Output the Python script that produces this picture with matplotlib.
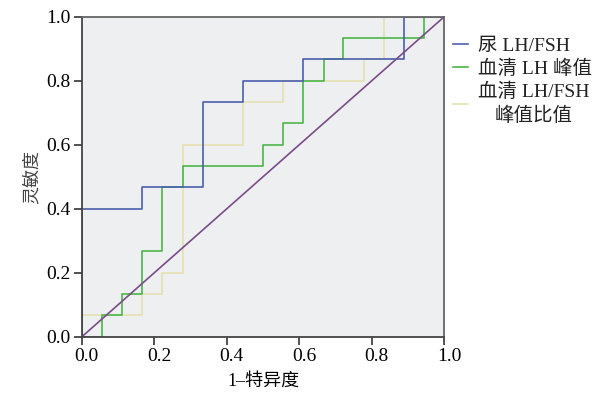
import matplotlib
matplotlib.use("Agg")
import matplotlib.pyplot as plt
import matplotlib.transforms as mtransforms

# ROC corner points (x = 1-特异度, y = 灵敏度)
urine_fpr = [0, 0, 0.167, 0.167, 0.333, 0.333, 0.444, 0.444, 0.611, 0.611, 0.889, 0.889, 1]
urine_tpr = [0, 0.4, 0.4, 0.467, 0.467, 0.733, 0.733, 0.8, 0.8, 0.867, 0.867, 1, 1]

lh_fpr = [0, 0.056, 0.056, 0.111, 0.111, 0.167, 0.167, 0.222, 0.222, 0.278, 0.278, 0.5,
          0.5, 0.556, 0.556, 0.611, 0.611, 0.667, 0.667, 0.722, 0.722, 0.944, 0.944, 1]
lh_tpr = [0, 0, 0.067, 0.067, 0.133, 0.133, 0.267, 0.267, 0.467, 0.467, 0.533, 0.533,
          0.6, 0.6, 0.667, 0.667, 0.8, 0.8, 0.867, 0.867, 0.933, 0.933, 1, 1]

ratio_fpr = [0, 0, 0.167, 0.167, 0.222, 0.222, 0.278, 0.278, 0.444, 0.444, 0.556, 0.556,
             0.778, 0.778, 0.833, 0.833, 1]
ratio_tpr = [0, 0.067, 0.067, 0.133, 0.133, 0.2, 0.2, 0.6, 0.6, 0.733, 0.733, 0.8,
             0.8, 0.867, 0.867, 1, 1]

ref_x = [0, 1]
ref_y = [0, 1]

ticks = [0.0, 0.2, 0.4, 0.6, 0.8, 1.0]
tick_labels = ["0.0", "0.2", "0.4", "0.6", "0.8", "1.0"]
labels = ["尿 LH/FSH", "血清 LH 峰值", "血清 LH/FSH\n峰值比值"]

serif = ["Liberation Serif", "Noto Sans CJK SC"]
cjk = ["Noto Sans CJK SC", "DejaVu Sans"]

fig = plt.figure(figsize=(6.11, 3.99), dpi=100)
ax = fig.add_axes([0.134, 0.156, 0.593, 0.802])
ax.set_facecolor("#eeeff0")

l3, = ax.plot(ratio_fpr, ratio_tpr, color="#e4e0b2", lw=1.2)
l2, = ax.plot(lh_fpr, lh_tpr, color="#4cb548", lw=1.2)
l1, = ax.plot(urine_fpr, urine_tpr, color="#4b5fae", lw=1.2)
ax.plot(ref_x, ref_y, color="#7a4c8a", lw=1.2)

ax.set_xlim(0, 1)
ax.set_ylim(0, 1)
ax.set_xticks(ticks)
ax.set_yticks(ticks)
ax.set_xticklabels(tick_labels, family=serif, fontsize=14)
ax.set_yticklabels(tick_labels, family=serif, fontsize=14)
ax.tick_params(direction="out", length=6, width=1.2, color="#333333", pad=2,
               top=False, right=False)

# x tick labels sit a bit to the right of their ticks in the original
offset = mtransforms.ScaledTranslation(5 / 100, 0, fig.dpi_scale_trans)
for lab in ax.get_xticklabels():
    lab.set_transform(lab.get_transform() + offset)

for side in ["left", "bottom"]:
    ax.spines[side].set_color("#444444")
    ax.spines[side].set_linewidth(1.3)
for side in ["top", "right"]:
    ax.spines[side].set_color("#666666")
    ax.spines[side].set_linewidth(1.3)

ax.set_xlabel("1–特异度", family=serif, fontsize=13, labelpad=6)
ax.set_ylabel("灵敏度", family=cjk, fontsize=13, fontweight="light", color="#444444",
              labelpad=4)

leg = fig.legend([l1, l2, l3], labels, loc="upper left", bbox_to_anchor=(0.712, 0.95),
                 frameon=False, handlelength=0.8, handletextpad=0.5, labelspacing=0.25,
                 prop={"family": serif, "size": 14})
for t in leg.get_texts():
    t.set_multialignment("center")
    t.set_color("#222222")
    t.set_linespacing(1.35)

fig.savefig("out.png", dpi=100)
